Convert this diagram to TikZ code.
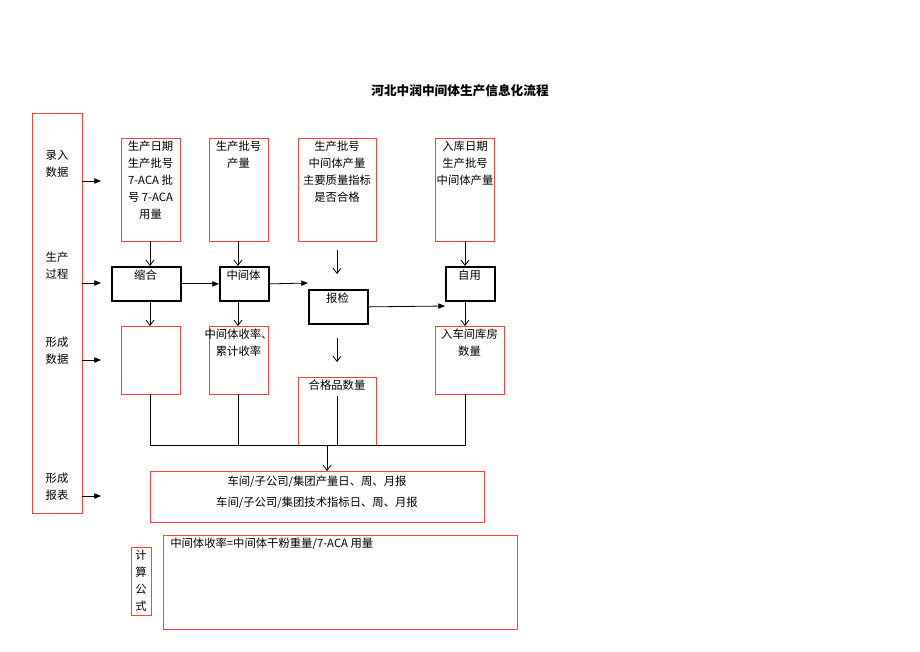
\documentclass[tikz,border=0pt]{standalone}
\usepackage{fontspec}
\setmainfont{Liberation Serif}
\newfontfamily\cjk{Noto Sans CJK SC}
\usetikzlibrary{arrows.meta}
\begin{document}
\begin{tikzpicture}[x=0.75pt,y=-0.75pt,
 rbox/.style={draw=red!75,line width=0.5pt},
 pbox/.style={draw=black,line width=1.3pt},
 txt/.style={font=\cjk\fontsize{8.5}{12.75}\selectfont,align=center,anchor=north,inner sep=0pt},
 dn/.style={-{Straight Barb[length=4pt,width=6pt]},line width=0.6pt},
 rt/.style={-{Triangle[length=5pt,width=4pt]},line width=0.6pt}]
\useasboundingbox (0,0) rectangle (920,651);
\node[font=\cjk\bfseries\fontsize{9.5}{12}\selectfont] (title) at (460,91) {河北中润中间体生产信息化流程};
% left column
\draw[rbox] (32,113) rectangle (82,513);
\node[txt] (l1) at (57,150) {录入\\数据};
\node[txt] (l2) at (57,252) {生产\\过程};
\node[txt] (l3) at (57,337) {形成\\数据};
\node[txt] (l4) at (57,473) {形成\\报表};
\foreach \y/\n in {181/a,283/b,360/c,496/d}{
 \coordinate (s\n) at (82,\y); \coordinate (e\n) at (101,\y);
 \draw[rt] (s\n) -- (e\n);}
% top boxes
\draw[rbox] (121,138) rectangle (180,241) coordinate (Abr);
\node[txt] (A) at (150.5,141) {生产日期\\生产批号\\7-ACA 批\\号 7-ACA\\用量};
\draw[rbox] (209,138) rectangle (268,241);
\node[txt] (B) at (238.5,141) {生产批号\\产量};
\draw[rbox] (298,138) rectangle (376,241);
\node[txt] (C) at (337,141) {生产批号\\中间体产量\\主要质量指标\\是否合格};
\draw[rbox] (435,138) rectangle (494,241);
\node[txt] (D) at (465,141) {入库日期\\生产批号\\中间体产量};
% process boxes
\node[pbox,minimum width=69*0.75pt,minimum height=34*0.75pt,anchor=north west,inner sep=0pt] (P1) at (111,266) {};
\node[txt] at (145.5,270) {缩合};
\node[pbox,minimum width=49*0.75pt,minimum height=34*0.75pt,anchor=north west,inner sep=0pt] (P2) at (219,266) {};
\node[txt] at (243.5,270) {中间体};
\node[pbox,minimum width=59*0.75pt,minimum height=34*0.75pt,anchor=north west,inner sep=0pt] (P3) at (308,289) {};
\node[txt] at (337.5,293) {报检};
\node[pbox,minimum width=49*0.75pt,minimum height=34*0.75pt,anchor=north west,inner sep=0pt] (P4) at (445,266) {};
\node[txt] at (469.5,270) {自用};
% arrows top
\draw[dn] (150,241) -- (150,266);
\draw[dn] (238,241) -- (238,266);
\coordinate (f1) at (337,250); \coordinate (f2) at (337,274);
\draw[dn] (f1) -- (f2);
\draw[dn] (465,241) -- (465,266);
\draw[rt] (P1.east) -- (P2.west);
\coordinate (f3) at (308,283);
\draw[rt] (P2.east) -- (f3);
\draw[rt] (P3.east) -- (445,306);
% row3
\draw[rbox] (121,326) rectangle (180,394);
\draw[rbox] (209,326) rectangle (268,394);
\node[txt] (F) at (238.5,329) {中间体收率、\\累计收率};
\draw[rbox] (298,377) rectangle (376,445);
\node[txt] (G) at (337,380) {合格品数量};
\draw[rbox] (435,326) rectangle (504,394);
\node[txt] (H) at (469.5,329) {入车间库房\\数量};
\draw[dn] (150,300) -- (150,326);
\draw[dn] (238,300) -- (238,326);
\coordinate (f4) at (337,338); \coordinate (f5) at (337,362);
\draw[dn] (f4) -- (f5);
\draw[dn] (465,300) -- (465,326);
% collectors
\draw[line width=0.6pt] (150,394) -- (150,445) -- (465,445) -- (465,394);
\draw[line width=0.6pt] (238,394) -- (238,445);
\draw[line width=0.6pt] (337,396) -- (337,445);
\draw[dn] (327,445) -- (327,471);
% report
\draw[rbox] (150,471) rectangle (484,522);
\node[txt] (R) at (317,476) {车间/子公司/集团产量日、周、月报\\[3pt]车间/子公司/集团技术指标日、周、月报};
% formula
\draw[rbox] (131,547) rectangle (151,615);
\node[txt] (K) at (141,550) {计\\算\\公\\式};
\draw[rbox] (163,535) rectangle (517,629);
\node[txt,anchor=north west] (Fm) at (170,538) {中间体收率=中间体干粉重量/7-ACA 用量};
\end{tikzpicture}
\end{document}
